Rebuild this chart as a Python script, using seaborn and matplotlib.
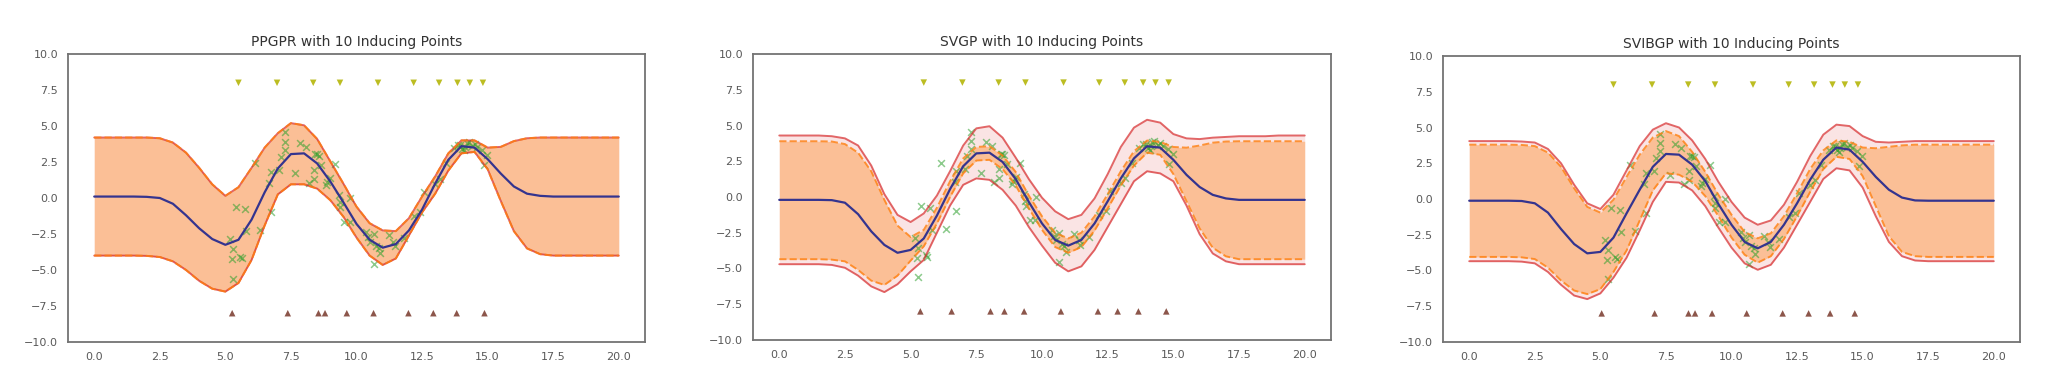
import numpy as np
import seaborn as sns
import matplotlib
matplotlib.use("Agg")
import matplotlib.pyplot as plt

# --- data ---

# prediction grid (x = 0, 0.5, ..., 20)
x_grid = np.arange(0, 20.5, 0.5)

# training observations (shared by all three panels)
x_obs = [5.17, 5.28, 5.25, 5.57, 5.64, 5.28, 5.41, 5.74, 5.80, 6.33, 6.74, 6.14, 6.74, 7.06,
         6.68, 7.13, 7.29, 7.29, 7.29, 7.67, 7.86, 8.09, 8.18, 8.37, 8.37, 8.43, 8.49, 8.56,
         8.65, 8.85, 8.88, 9.00, 9.17, 9.32, 9.36, 9.76, 9.54, 9.74, 9.38, 10.37, 10.65, 10.53,
         10.85, 10.91, 10.65, 11.23, 11.39, 11.80, 11.45, 12.18, 12.43, 12.59, 13.00, 13.17,
         13.42, 13.70, 13.86, 14.02, 14.15, 14.28, 14.40, 14.60, 14.78, 14.85, 14.97, 13.95,
         14.20, 14.50, 14.10, 10.45, 10.75]
y_obs = [-2.85, -3.54, -4.26, -4.07, -4.19, -5.60, -0.63, -0.79, -2.29, -2.22, -1.00, 2.41, 1.83, 1.94,
         1.02, 2.87, 3.33, 3.91, 4.56, 1.71, 3.84, 3.56, 1.02, 1.32, 1.94, 3.03, 3.03, 2.94,
         2.29, 0.90, 1.13, 1.41, 2.36, 0.21, -0.25, -0.02, -1.64, -1.64, -0.60, -2.34, -2.52, -3.03,
         -3.45, -3.84, -4.58, -2.57, -3.03, -2.80, -3.36, -1.23, -1.00, 0.44, 0.95, 1.32,
         2.41, 3.45, 3.68, 3.40, 3.56, 3.91, 3.63, 3.56, 3.33, 2.29, 2.99, 3.70,
         3.85, 3.75, 3.30, -2.70, -3.30]

# inducing point locations
z_init = [5.50, 6.97, 8.35, 9.37, 10.82, 12.18, 13.15, 13.85, 14.32, 14.82]
z_ppgpr = [5.26, 7.38, 8.55, 8.80, 9.63, 10.65, 11.98, 12.93, 13.82, 14.88]
z_svgp = [5.37, 6.56, 8.04, 8.57, 9.32, 10.72, 12.13, 12.88, 13.67, 14.73]
z_svibgp = [5.05, 7.07, 8.36, 8.61, 9.26, 10.58, 11.95, 12.94, 13.76, 14.70]
init_level = 8.0
learned_level = -8.0

# PPGPR (latent and predictive bands coincide)
ppgpr_mean = [0.1, 0.1, 0.1, 0.1, 0.08, 0.0, -0.4, -1.2, -2.1, -2.85, -3.25, -2.9, -1.5, 0.4, 2.05,
              3.05, 3.1, 2.4, 1.15, -0.3, -1.8, -2.9, -3.45, -3.2, -2.25, -0.8, 1.0, 2.65, 3.6, 3.5,
              2.7, 1.7, 0.8, 0.3, 0.15, 0.1, 0.1, 0.1, 0.1, 0.1, 0.1]
ppgpr_upper = [4.2, 4.2, 4.2, 4.2, 4.2, 4.15, 3.85, 3.15, 2.1, 0.95, 0.15, 0.75, 2.1, 3.5, 4.5,
               5.2, 5.05, 4.1, 2.55, 1.0, -0.6, -1.75, -2.25, -2.3, -1.4, 0.1, 1.5, 3.1, 4.0, 4.0,
               3.5, 3.55, 3.95, 4.15, 4.2, 4.2, 4.2, 4.2, 4.2, 4.2, 4.2]
ppgpr_lower = [-4.0, -4.0, -4.0, -4.0, -4.02, -4.1, -4.4, -5.0, -5.75, -6.3, -6.5, -5.9, -4.3, -1.9, 0.25,
               0.95, 0.95, 0.65, -0.15, -1.3, -2.75, -4.0, -4.65, -4.2, -2.6, -1.0, 0.3, 1.9, 3.1, 3.2,
               2.0, -0.2, -2.3, -3.5, -3.9, -4.0, -4.0, -4.0, -4.0, -4.0, -4.0]

# SVGP
svgp_mean = [-0.2, -0.2, -0.2, -0.2, -0.22, -0.4, -1.2, -2.4, -3.35, -3.9, -3.7, -2.9, -1.3, 0.55, 2.15,
             3.05, 3.1, 2.45, 1.25, -0.35, -1.85, -3.0, -3.4, -3.0, -1.85, -0.3, 1.3, 2.7, 3.55, 3.45,
             2.6, 1.55, 0.7, 0.15, -0.1, -0.2, -0.2, -0.2, -0.2, -0.2, -0.2]
svgp_pred_upper = [4.3, 4.3, 4.3, 4.3, 4.25, 4.1, 3.6, 2.2, 0.2, -1.25, -1.75, -1.15, 0.1, 1.8, 3.6,
                   4.8, 4.95, 4.15, 2.75, 1.25, -0.05, -1.0, -1.55, -1.25, -0.1, 1.6, 3.5, 4.85, 5.4, 5.2,
                   4.4, 4.1, 4.05, 4.15, 4.2, 4.25, 4.25, 4.25, 4.3, 4.3, 4.3]
svgp_pred_lower = [-4.7, -4.7, -4.7, -4.7, -4.75, -4.95, -5.5, -6.25, -6.65, -6.1, -5.2, -4.4, -2.5, -0.6, 0.85,
                   1.3, 1.2, 0.5, -0.6, -2.1, -3.4, -4.6, -5.2, -4.85, -3.7, -2.1, -0.5, 1.1, 1.8, 1.65,
                   1.1, -0.6, -2.6, -3.95, -4.5, -4.7, -4.7, -4.7, -4.7, -4.7, -4.7]
svgp_lat_upper = [3.9, 3.9, 3.9, 3.9, 3.88, 3.7, 3.1, 1.8, -0.2, -2.0, -2.8, -2.3, -0.75, 1.1, 2.7,
                  3.5, 3.55, 2.9, 1.75, 0.1, -1.35, -2.5, -2.9, -2.5, -1.35, 0.2, 1.8, 3.2, 3.95, 3.85,
                  3.5, 3.45, 3.6, 3.8, 3.88, 3.9, 3.9, 3.9, 3.9, 3.9, 3.9]
svgp_lat_lower = [-4.35, -4.35, -4.35, -4.35, -4.38, -4.5, -5.1, -5.85, -6.15, -5.5, -4.45, -3.45, -1.85, 0.0, 1.65,
                  2.55, 2.6, 1.95, 0.8, -0.8, -2.3, -3.5, -3.9, -3.5, -2.35, -0.8, 0.8, 2.2, 3.1, 2.95,
                  1.6, -0.3, -2.2, -3.55, -4.15, -4.35, -4.35, -4.35, -4.35, -4.35, -4.35]

# SVIBGP
svibgp_mean = [-0.12, -0.12, -0.12, -0.12, -0.14, -0.3, -0.95, -2.1, -3.15, -3.8, -3.7, -2.7, -1.0, 0.65, 2.25,
               3.15, 3.1, 2.4, 1.25, -0.35, -1.8, -3.0, -3.45, -3.0, -1.8, -0.3, 1.35, 2.75, 3.6, 3.45,
               2.6, 1.55, 0.65, 0.1, -0.1, -0.12, -0.12, -0.12, -0.12, -0.12, -0.12]
svibgp_pred_upper = [4.05, 4.05, 4.05, 4.05, 4.02, 3.95, 3.5, 2.5, 1.0, -0.3, -0.7, 0.3, 2.0, 3.7, 4.85,
                     5.3, 5.0, 4.1, 2.8, 1.2, -0.2, -1.3, -1.8, -1.5, -0.4, 1.2, 3.0, 4.5, 5.2, 5.1,
                     4.4, 4.0, 3.95, 4.0, 4.05, 4.05, 4.05, 4.05, 4.05, 4.05, 4.05]
svibgp_pred_lower = [-4.35, -4.35, -4.35, -4.35, -4.38, -4.5, -5.1, -6.0, -6.75, -7.0, -6.6, -5.5, -4.1, -2.2, -0.2,
                     1.2, 1.15, 0.6, -0.5, -2.0, -3.4, -4.5, -4.95, -4.6, -3.4, -1.8, -0.2, 1.4, 2.15, 2.0,
                     0.8, -1.2, -3.0, -4.0, -4.3, -4.35, -4.35, -4.35, -4.35, -4.35, -4.35]
svibgp_lat_upper = [3.8, 3.8, 3.8, 3.8, 3.78, 3.7, 3.25, 2.25, 0.75, -0.55, -0.95, -0.05, 1.55, 3.1, 4.3,
                    4.75, 4.4, 3.3, 1.9, 0.3, -1.1, -2.3, -2.75, -2.4, -1.2, 0.4, 2.1, 3.4, 4.1, 4.0,
                    3.6, 3.55, 3.65, 3.75, 3.8, 3.8, 3.8, 3.8, 3.8, 3.8, 3.8]
svibgp_lat_lower = [-4.05, -4.05, -4.05, -4.05, -4.08, -4.2, -4.8, -5.7, -6.4, -6.65, -6.3, -5.1, -3.6, -1.5, 0.6,
                    1.8, 1.7, 1.2, 0.2, -1.2, -2.7, -3.9, -4.45, -4.0, -2.8, -1.2, 0.5, 2.1, 2.95, 2.8,
                    1.6, -0.5, -2.6, -3.7, -4.0, -4.05, -4.05, -4.05, -4.05, -4.05, -4.05]

titles = ["PPGPR with 10 Inducing Points", "SVGP with 10 Inducing Points", "SVIBGP with 10 Inducing Points"]

panels = [
    (ppgpr_mean, ppgpr_upper, ppgpr_lower, ppgpr_upper, ppgpr_lower, z_ppgpr),
    (svgp_mean, svgp_pred_upper, svgp_pred_lower, svgp_lat_upper, svgp_lat_lower, z_svgp),
    (svibgp_mean, svibgp_pred_upper, svibgp_pred_lower, svibgp_lat_upper, svibgp_lat_lower, z_svibgp),
]

# --- plotting ---
sns.set_style("white")
plt.rcParams["font.family"] = ["DejaVu Sans"]

fig = plt.figure(figsize=(20.48, 3.76), dpi=100)
boxes = [
    [68 / 2048, 34 / 376, 577 / 2048, 288 / 376],
    [753 / 2048, 36 / 376, 578 / 2048, 286 / 376],
    [1443 / 2048, 34 / 376, 577 / 2048, 286 / 376],
]

red = "#d62728"
orange = "#ff7f0e"
navy = "#34348f"

for box, title, (mean, p_up, p_lo, l_up, l_lo, z_learned) in zip(boxes, titles, panels):
    ax = fig.add_axes(box)

    # predictive band (pink) and latent band (peach)
    ax.fill_between(x_grid, p_lo, p_up, color=red, alpha=0.12, linewidth=0)
    ax.fill_between(x_grid, l_lo, l_up, color=orange, alpha=0.36, linewidth=0)

    sns.lineplot(x=x_grid, y=p_up, ax=ax, color=red, alpha=0.7, linewidth=1.4)
    sns.lineplot(x=x_grid, y=p_lo, ax=ax, color=red, alpha=0.7, linewidth=1.4)
    sns.lineplot(x=x_grid, y=l_up, ax=ax, color=orange, alpha=0.8, linewidth=1.4, linestyle="--")
    sns.lineplot(x=x_grid, y=l_lo, ax=ax, color=orange, alpha=0.8, linewidth=1.4, linestyle="--")
    sns.lineplot(x=x_grid, y=mean, ax=ax, color=navy, linewidth=1.6)

    sns.scatterplot(x=x_obs, y=y_obs, ax=ax, marker="x", color="#2ca02c", alpha=0.55,
                    s=24, linewidth=1.1)
    sns.scatterplot(x=z_init, y=[init_level] * len(z_init), ax=ax, marker="v",
                    color="#bcbd22", s=22, edgecolor="none")
    sns.scatterplot(x=z_learned, y=[learned_level] * len(z_learned), ax=ax, marker="^",
                    color="#8c564b", s=22, edgecolor="none")

    ax.set_xlim(-1, 21)
    ax.set_ylim(-10, 10)
    ax.set_xticks(np.arange(0, 20.1, 2.5))
    ax.set_yticks(np.arange(-10, 10.1, 2.5))
    ax.tick_params(length=0, pad=7, labelsize=8, colors="0.35")
    for spine in ax.spines.values():
        spine.set_color("0.45")
        spine.set_linewidth(1.3)
    ax.set_title(title, fontsize=10, color="0.2", pad=6)

fig.savefig("out.png", dpi=100)
